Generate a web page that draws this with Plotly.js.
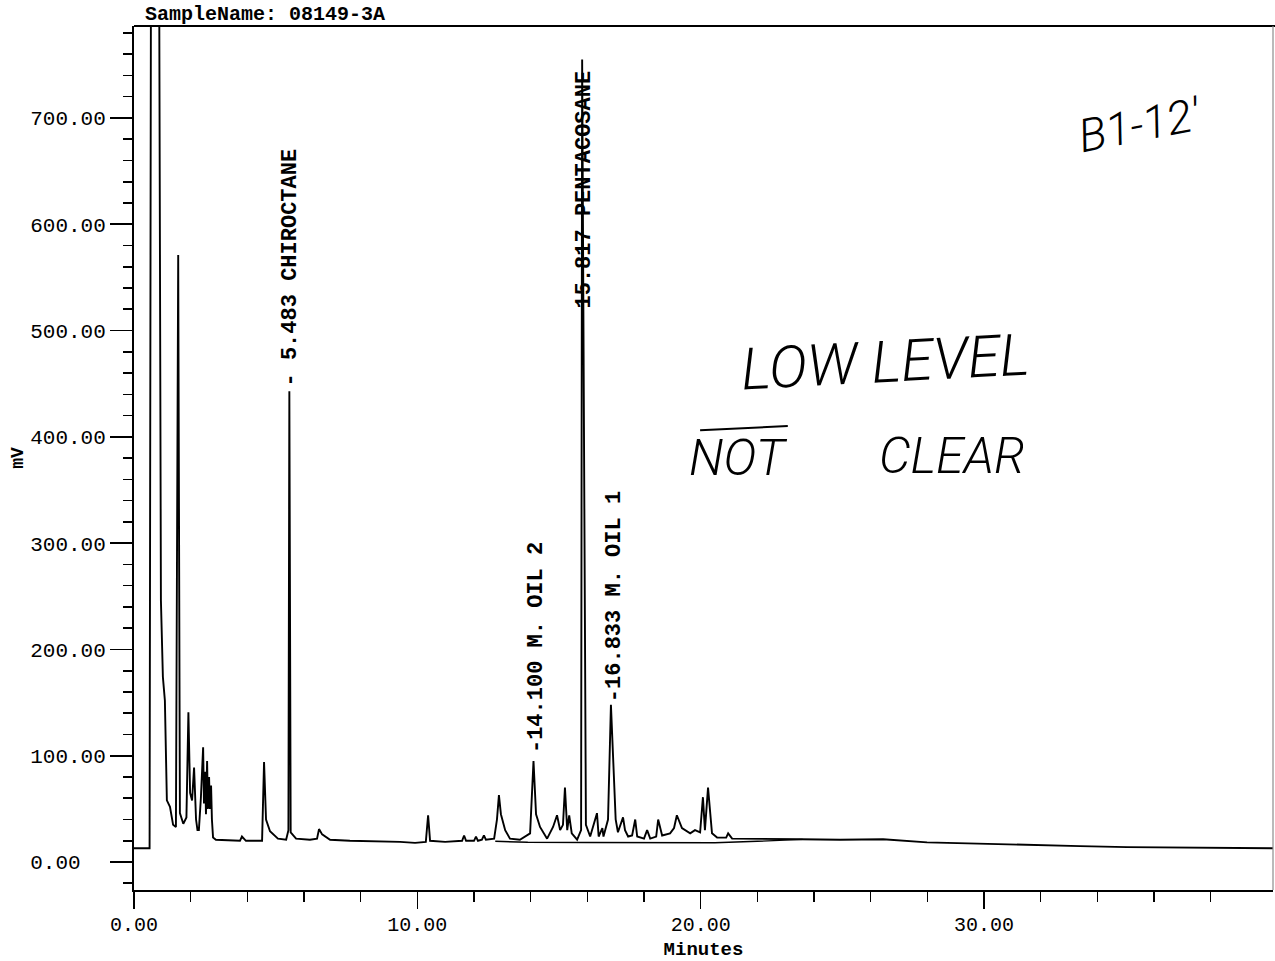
<!DOCTYPE html>
<html>
<head>
<meta charset="utf-8">
<script src="https://cdn.plot.ly/plotly-3.0.1.min.js"></script>
<style>
  html, body { margin: 0; padding: 0; background: #ffffff; }
  #chart { width: 1275px; height: 961px; }
</style>
</head>
<body>
<div id="chart"></div>
<script>
// Detector trace: retention time (min) and signal (mV)
const retentionMin = [
  0.00, 0.55, 0.62, 0.85, 0.95, 1.02, 1.09, 1.16, 1.27, 1.38, 1.48, 1.56, 1.62, 1.74, 1.85, 1.92,
  1.98, 2.05, 2.12, 2.19, 2.24, 2.29, 2.36, 2.44, 2.47, 2.51, 2.54, 2.58, 2.61, 2.65, 2.68, 2.72,
  2.75, 2.79, 2.89, 3.74, 3.81, 3.95, 4.52, 4.59, 4.66, 4.80, 5.08, 5.37, 5.45, 5.483, 5.53, 5.72,
  6.21, 6.46, 6.53, 6.64, 6.92, 7.62, 9.39, 9.92, 10.30, 10.38, 10.45, 10.98, 11.58, 11.65, 11.72,
  12.00, 12.07, 12.14, 12.28, 12.35, 12.42, 12.71, 12.81, 12.88, 12.95, 13.10, 13.27, 13.62, 13.98,
  14.100, 14.19, 14.26, 14.33, 14.58, 14.79, 14.93, 15.04, 15.14, 15.21, 15.29, 15.36, 15.45, 15.64,
  15.78, 15.817, 15.95, 16.10, 16.34, 16.40, 16.53, 16.57, 16.73, 16.833, 17.00, 17.08, 17.26, 17.33,
  17.44, 17.58, 17.69, 17.76, 18.00, 18.11, 18.22, 18.43, 18.50, 18.64, 18.92, 19.06, 19.16, 19.34,
  19.63, 19.80, 19.98, 20.08, 20.15, 20.26, 20.40, 20.58, 20.90, 20.97, 21.11, 22.10, 23.51, 24.92,
  26.44, 27.99, 29.86, 31.52, 33.39, 35.05, 37.63, 40.20
];
const signalMv = [
  13, 13, 1200, 1200, 246, 174, 152, 58, 52, 35, 33, 571, 46, 36, 42, 141,
  65, 58, 89, 40, 30, 30, 60, 108, 55, 85, 45, 95, 50, 80, 50, 72,
  40, 23, 21, 20, 24, 20, 20, 94, 40, 29, 22, 21, 30, 443, 28, 22,
  21, 22, 31, 26, 21, 20, 19, 18, 19, 44, 20, 19, 20, 25, 20,
  20, 24, 20, 21, 25, 21, 22, 40, 63, 45, 30, 22, 21, 27,
  95, 45, 40, 33, 22, 33, 44, 30, 35, 70, 30, 44, 27, 21,
  30, 755, 35, 24, 46, 24, 32, 24, 40, 148, 40, 28, 42, 30,
  24, 25, 40, 24, 22, 30, 22, 24, 40, 25, 27, 32, 44, 32,
  27, 30, 28, 61, 30, 70, 27, 23, 23, 27, 22, 22, 21.5, 21,
  21.5, 18.5, 17.5, 16, 15, 14, 13.5, 13
];

// Integration baseline drawn under the later peak cluster
const baselineMin = [12.75, 13.90, 16.00, 20.50, 22.00, 23.60];
const baselineMv  = [19.5, 18.6, 18.4, 18.2, 19.5, 21.3];

// Named peaks
const peakTimes = [5.483, 14.100, 15.817, 16.833];
const peakNames = ['CHIROCTANE', 'M. OIL 2', 'PENTACOSANE', 'M. OIL 1'];

// Axis labels
const xTickVals = [0, 10, 20, 30];
const xTickLabels = ['0.00', '10.00', '20.00', '30.00'];
const yTickVals = [0, 100, 200, 300, 400, 500, 600, 700];
const yTickLabels = ['0.00', '100.00', '200.00', '300.00', '400.00', '500.00', '600.00', '700.00'];

const sampleName = '08149-3A';
const handNotes = ["B1-12'", 'LOW LEVEL', 'NOT', 'CLEAR'];

const MONO = 'Liberation Mono, Courier New, monospace';
const HAND = 'Roboto, Noto Sans, sans-serif';

// y tick labels are left-aligned in a fixed-width column
const yTickText = yTickLabels.map(s => s.padEnd(6, '\u00a0'));

const xMinor = [];
for (let v = 2; v < 40.2; v += 2) if (v % 10 !== 0) xMinor.push(v);
const yMinor = [];
for (let v = -20; v <= 780; v += 20) if (v % 100 !== 0) yMinor.push(v);

const trace = {
  x: retentionMin, y: signalMv, type: 'scatter', mode: 'lines',
  line: { color: '#000', width: 1.9 }, hoverinfo: 'skip'
};
const baseTrace = {
  x: baselineMin, y: baselineMv, type: 'scatter', mode: 'lines',
  line: { color: '#000', width: 1.4 }, hoverinfo: 'skip'
};

function apexOf(t) {
  const i = retentionMin.indexOf(t);
  return signalMv[i];
}

// label text sits above the apex, reading bottom-to-top
const labelCfg = [
  { prefix: '- ', y: apexOf(peakTimes[0]), yshift: 3, xshift: 1 },
  { prefix: '-',  y: apexOf(peakTimes[1]), yshift: 6, xshift: 3 },
  { prefix: '',   y: 519,                  yshift: 0, xshift: 2 },
  { prefix: '-',  y: apexOf(peakTimes[3]), yshift: 1, xshift: 3 }
];
const peakAnnotations = peakTimes.map((t, i) => ({
  x: t, y: labelCfg[i].y, xref: 'x', yref: 'y',
  text: labelCfg[i].prefix + t.toFixed(3) + ' ' + peakNames[i],
  showarrow: false, textangle: -90,
  xanchor: 'center', yanchor: 'bottom',
  xshift: labelCfg[i].xshift, yshift: labelCfg[i].yshift,
  font: { family: MONO, size: 22, color: '#000', weight: 'bold' }
}));

const noteAnnotations = [
  { x: 0.883, y: 0.885, text: handNotes[0], textangle: -11, size: 46 },
  { x: 0.659, y: 0.611, text: handNotes[1], textangle: -3,  size: 58 },
  { x: 0.531, y: 0.500, text: handNotes[2], textangle: 0,   size: 50 },
  { x: 0.718, y: 0.502, text: handNotes[3], textangle: 0,   size: 50 }
].map(n => ({
  x: n.x, y: n.y, xref: 'paper', yref: 'paper', text: n.text,
  showarrow: false, textangle: n.textangle, xanchor: 'center', yanchor: 'middle',
  font: { family: HAND, size: n.size, color: '#000', style: 'italic', weight: 300 }
}));

const layout = {
  width: 1275, height: 961,
  margin: { l: 134, r: 2, t: 26, b: 71, pad: 0 },
  paper_bgcolor: '#ffffff', plot_bgcolor: '#ffffff',
  showlegend: false,
  title: {
    text: 'SampleName: ' + sampleName,
    xref: 'container', yref: 'container',
    x: 145 / 1275, xanchor: 'left', y: 1 - 13 / 961, yanchor: 'middle',
    font: { family: MONO, size: 20, color: '#000', weight: 'bold' }
  },
  xaxis: {
    range: [0, 40.2], showgrid: false, zeroline: false,
    showline: true, linecolor: '#000', linewidth: 2,
    ticks: 'outside', ticklen: 17, tickwidth: 1.6, tickcolor: '#000',
    ticklabelstandoff: -2,
    tickmode: 'array', tickvals: xTickVals, ticktext: xTickLabels,
    tickfont: { family: MONO, size: 20, color: '#000' },
    minor: { tickmode: 'array', tickvals: xMinor, ticks: 'outside', ticklen: 10, tickwidth: 1.6, tickcolor: '#000', showgrid: false },
    title: { text: 'Minutes', standoff: 6, font: { family: MONO, size: 19, color: '#000', weight: 'bold' } },
    automargin: false, fixedrange: true
  },
  yaxis: {
    range: [-26.3, 786.5], showgrid: false, zeroline: false,
    showline: true, linecolor: '#000', linewidth: 2,
    ticks: 'outside', ticklen: 22, tickwidth: 1.6, tickcolor: '#000',
    tickmode: 'array', tickvals: yTickVals, ticktext: yTickText,
    tickfont: { family: MONO, size: 21, color: '#000' },
    minor: { tickmode: 'array', tickvals: yMinor, ticks: 'outside', ticklen: 9, tickwidth: 1.6, tickcolor: '#000', showgrid: false },
    title: { text: 'mV', standoff: 2, font: { family: MONO, size: 18, color: '#000', weight: 'bold' } },
    automargin: false, fixedrange: true
  },
  shapes: [
    // top frame line
    { type: 'line', xref: 'paper', yref: 'paper', x0: 0, x1: 1.002, y0: 1, y1: 1, line: { color: '#000', width: 2 } },
    // right frame line
    { type: 'line', xref: 'paper', yref: 'paper', x0: 1, x1: 1, y0: 0, y1: 1, line: { color: '#8c8c8c', width: 1.2 } },
    // stroke over the handwritten NOT
    { type: 'line', xref: 'paper', yref: 'paper', x0: 0.497, x1: 0.574, y0: 0.532, y1: 0.537, line: { color: '#000', width: 2 } }
  ],
  annotations: peakAnnotations.concat(noteAnnotations)
};

Plotly.newPlot('chart', [trace, baseTrace], layout, { staticPlot: true, displayModeBar: false });
</script>
</body>
</html>
